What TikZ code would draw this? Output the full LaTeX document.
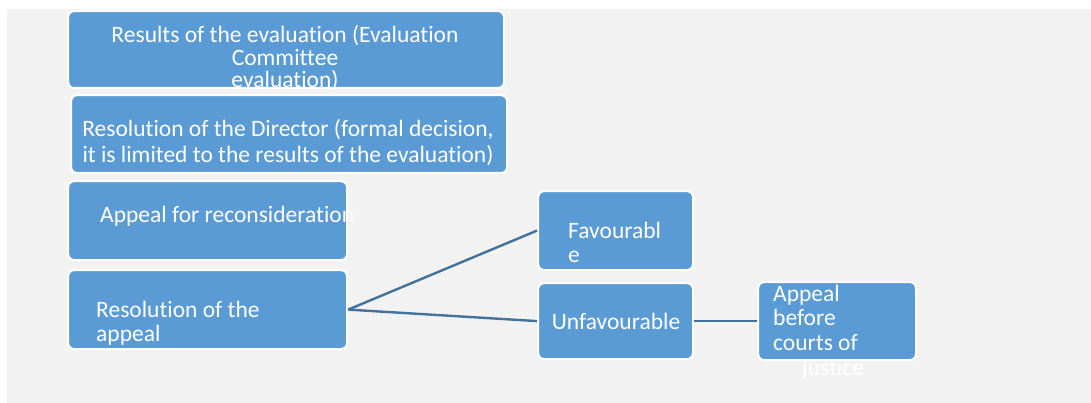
\documentclass[tikz,border=0pt]{standalone}
\usepackage{fontspec}
\setmainfont{Carlito}[Ligatures=NoCommon]
\usetikzlibrary{positioning}
\definecolor{panel}{HTML}{F2F2F2}
\definecolor{boxfill}{HTML}{5B9BD5}
\definecolor{linkc}{HTML}{41719C}

\tikzset{
  stage/.style={draw=white, line width=2.2pt, fill=boxfill, rounded corners=6pt,
    inner sep=0pt, anchor=north west},
  lbl/.style={text=white, inner sep=0pt, font=\fontsize{23.5}{23}\selectfont},
  link/.style={draw=linkc, line width=2.4pt}
}

\begin{document}
\begin{tikzpicture}[x=1pt,y=-1pt]
  \useasboundingbox (0,0) rectangle (1091,403);
  \fill[panel] (7,9) rectangle (1091,403);

  % left column
  \node[stage, minimum width=436pt, minimum height=77pt] (results) at (67,10) {};
  \node[stage, minimum width=436pt, minimum height=78pt] (director) at (70,94) {};
  \node[stage, minimum width=279pt, minimum height=79pt] (recons) at (67,180) {};
  \node[stage, minimum width=279pt, minimum height=79pt] (appeal) at (67,269) {};
  % outcomes
  \node[stage, minimum width=155pt, minimum height=79pt] (fav) at (537,190) {};
  \node[stage, minimum width=155pt, minimum height=76pt] (unfav) at (537,282) {};
  \node[stage, minimum width=158pt, minimum height=78pt] (courts) at (757,281) {};

  \draw[link] (appeal.east) -- (fav.west);
  \draw[link] (appeal.east) -- (unfav.west);
  \draw[link] (unfav.east) -- (courts.west);

  % texts (base anchor = last line)
  \node[lbl, anchor=base, align=center, font=\fontsize{23.5}{22.5}\selectfont] (resultstxt) at (285,88)
    {Results of the evaluation (Evaluation\\Committee\\evaluation)};
  \node[lbl, anchor=base, align=center, font=\fontsize{23.5}{26}\selectfont] (directortxt) at (288,163)
    {Resolution of the Director (formal decision,\\it is limited to the results of the evaluation)};
  \node[lbl, anchor=base west] (reconstxt) at (100,223) {Appeal for reconsideration};
  \node[lbl, anchor=base west, align=left, font=\fontsize{23.5}{24}\selectfont] (appealtxt) at (96,341)
    {Resolution of the\\appeal};
  \node[lbl, anchor=base west, align=left, font=\fontsize{23.5}{24}\selectfont] (favtxt) at (568,262)
    {Favourabl\\e};
  \node[lbl, anchor=base] (unfavtxt) at (616,329) {Unfavourable};
  \node[lbl, anchor=base west, align=left, font=\fontsize{23.5}{24.5}\selectfont] (courtstxt) at (773,350)
    {Appeal\\before\\courts of};
  \node[lbl, anchor=base west] (justicetxt) at (802,375) {justice};
\end{tikzpicture}
\end{document}
